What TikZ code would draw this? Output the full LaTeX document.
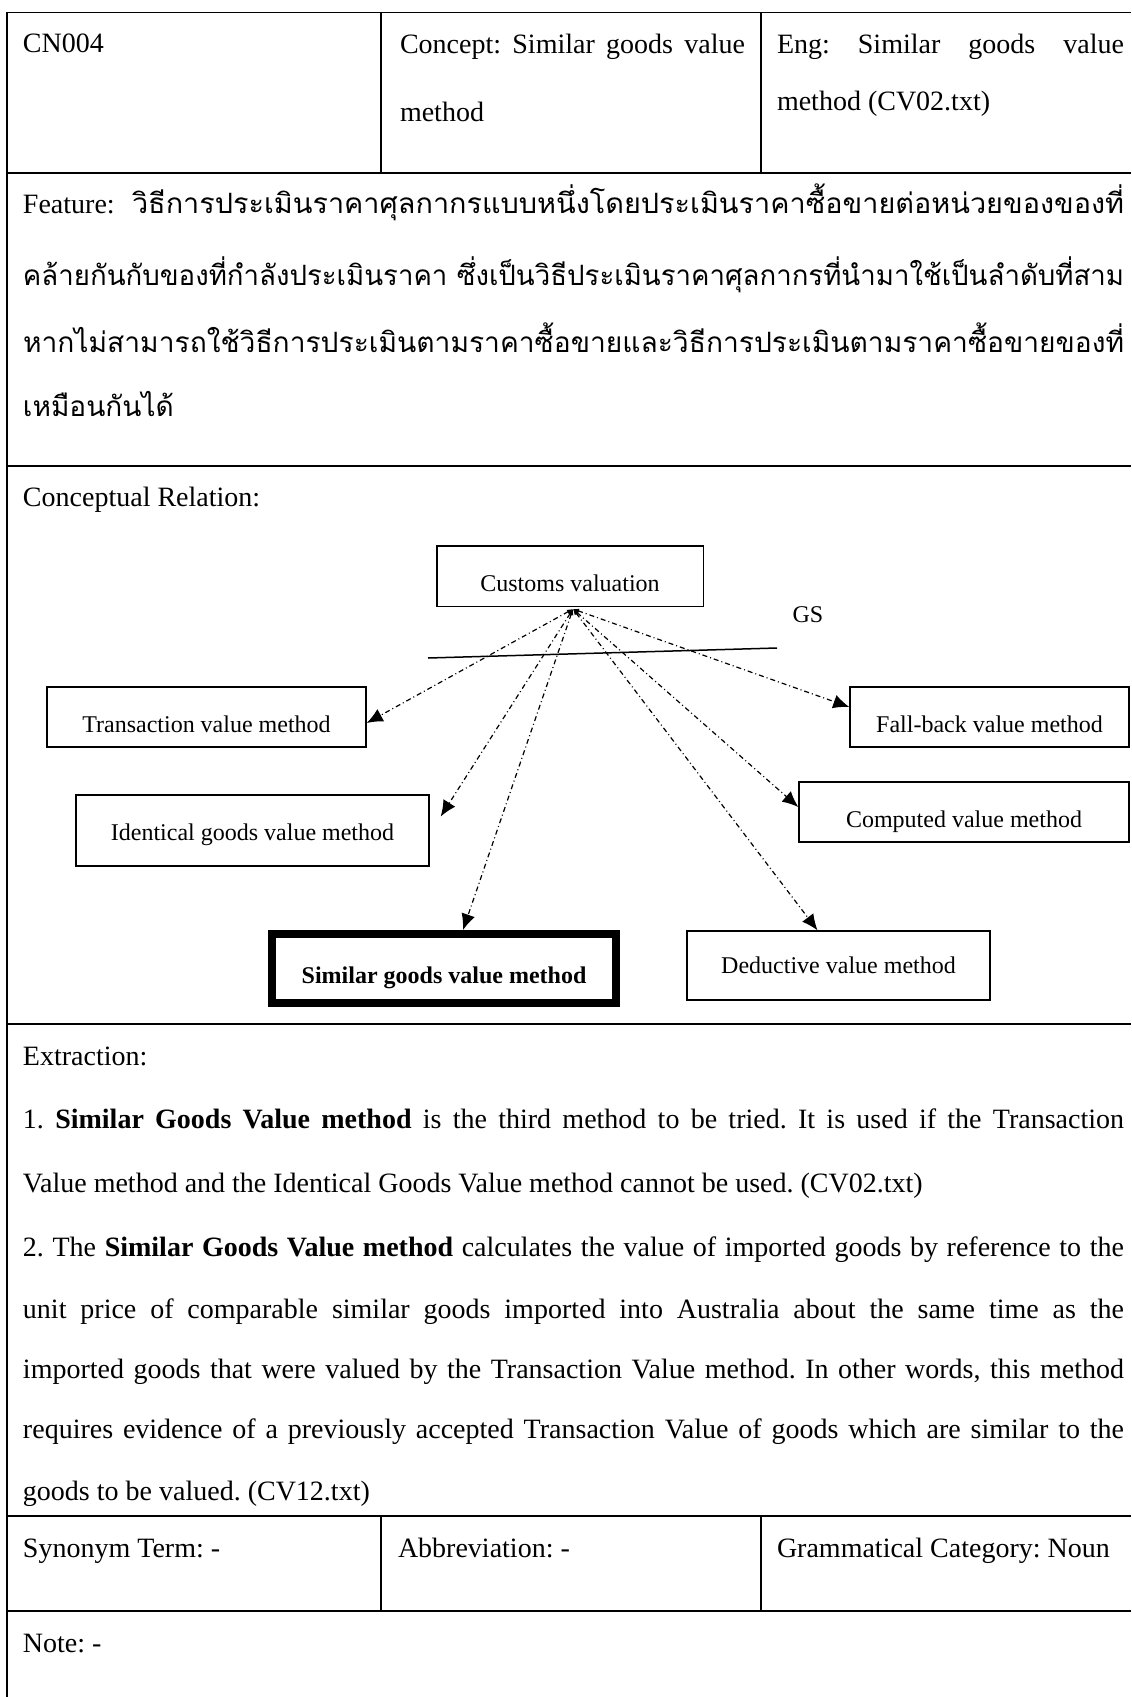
\documentclass[tikz,border=0pt]{standalone}
\usepackage{fontspec}
\setmainfont{Liberation Serif}
\newfontfamily\thaifont[Script=Thai]{Loma}
\usepackage{graphicx}
\usetikzlibrary{arrows.meta}
\frenchspacing

\begin{document}
\begin{tikzpicture}[x=0.5pt,y=-0.5pt,
  txt/.style={anchor=base west, inner sep=0pt, outer sep=0pt,
    font=\fontsize{14pt}{17pt}\selectfont},
  box/.style={draw, line width=0.7pt, inner sep=0pt, text depth=0pt,
    font=\fontsize{12pt}{14pt}\selectfont},
  tablerule/.style={line width=0.8pt},
  cellrule/.style={line width=0.6pt},
  rel/.style={line width=0.6pt,
    dash pattern=on 2.5pt off 1.5pt on 0.5pt off 1.5pt,
    {Latex[length=3pt,width=2.5pt]}-{Latex[length=8pt,width=7pt]}},
]
% page
\fill[white] (0,0) rectangle (1131,1697);
\useasboundingbox (0,0) rectangle (1131,1697);

% ---- table frame ----
\draw[tablerule] (7,1697) -- (7,12.5) -- (1131,12.5);
\foreach \yy in {173,466,1024,1516,1611}
  \draw[tablerule] (7,\yy) -- (1131,\yy);
\draw[cellrule] (381,12.5) -- (381,173);
\draw[cellrule] (761,12.5) -- (761,173);
\draw[cellrule] (381,1516) -- (381,1611);
\draw[cellrule] (761,1516) -- (761,1611);

% ---- header row ----
\node[txt] (id) at (23,52) {CN004};
\node[txt] (concept1) at (400,53) {\makebox[172.5pt][s]{Concept: Similar goods value}};
\node[txt] (concept2) at (400,121) {method};
\node[txt] (eng1) at (777,53) {\makebox[173.5pt][s]{Eng: Similar goods value}};
\node[txt] (eng2) at (777,110) {method (CV02.txt)};

% ---- feature row ----
\node[txt] (feat) at (23,213) {Feature:};
\node[txt] (th1) at (132,213) {\resizebox{496pt}{\height}{\thaifont วิธีการประเมินราคาศุลกากรแบบหนึ่งโดยประเมินราคาซื้อขายต่อหน่วยของของที่}};
\node[txt] (th2) at (23,285) {\resizebox{550.5pt}{\height}{\thaifont คล้ายกันกับของที่กำลังประเมินราคา ซึ่งเป็นวิธีประเมินราคาศุลกากรที่นำมาใช้เป็นลำดับที่สาม}};
\node[txt] (th3) at (23,352) {\resizebox{550.5pt}{\height}{\thaifont หากไม่สามารถใช้วิธีการประเมินตามราคาซื้อขายและวิธีการประเมินตามราคาซื้อขายของที่}};
\node[txt] (th4) at (23,416) {\thaifont เหมือนกันได้};

% ---- conceptual relation ----
\node[txt] (crel) at (23,506) {Conceptual Relation:};

\node[box, minimum width=133.2pt, minimum height=30.35pt, text height=15.5pt] (cv) at (570,576.4) {Customs valuation};
\node[box, minimum width=159.5pt, minimum height=30pt, text height=15pt] (tv) at (206.5,717) {Transaction value method};
\node[box, minimum width=139.5pt, minimum height=30pt, text height=15pt] (fb) at (989.5,717) {Fall-back value method};
\node[box, minimum width=176.5pt, minimum height=35.5pt, text height=9.5pt] (ig) at (252.5,830.5) {Identical goods value method};
\node[box, minimum width=165pt, minimum height=30pt, text height=15pt] (cm) at (964,812) {Computed value method};
\node[box, line width=4pt, minimum width=172pt, minimum height=34.5pt, text height=14.5pt,
  font=\fontsize{12pt}{14pt}\selectfont\bfseries] (sg) at (444,968.5) {Similar goods value method};
\node[box, minimum width=151.5pt, minimum height=34.5pt, text height=7.5pt] (dv) at (838.5,965.5) {Deductive value method};

\node[anchor=base, inner sep=0pt, font=\fontsize{12pt}{14pt}\selectfont] (gs) at (808,622) {GS};
\coordinate (gsl) at (428,658);
\coordinate (gsr) at (777,648);
\draw[line width=0.75pt] (gsl) -- (gsr);

\coordinate (hub) at (573,609);
\draw[rel] (hub) -- ([yshift=-3pt]tv.east);
\draw[rel] (hub) -- ([yshift=5pt]fb.west);
\draw[rel] (hub) -- ([xshift=5.5pt,yshift=7pt]ig.east);
\draw[rel] (hub) -- ([xshift=9.5pt]sg.north);
\draw[rel] (hub) -- ([yshift=2.5pt]cm.west);
\draw[rel] (hub) -- ([xshift=-10.5pt]dv.north);

% ---- extraction ----
\node[txt] (ex0) at (23,1065) {Extraction:};
\node[txt] (ex1) at (23,1128) {\makebox[550.5pt][s]{1. \textbf{Similar Goods Value method} is the third method to be tried. It is used if the Transaction}};
\node[txt] (ex2) at (23,1192) {Value method and the Identical Goods Value method cannot be used. (CV02.txt)};
\node[txt] (ex3) at (23,1256) {\makebox[550.5pt][s]{2. The \textbf{Similar Goods Value method} calculates the value of imported goods by reference to the}};
\node[txt] (ex4) at (23,1318) {\makebox[550.5pt][s]{unit price of comparable similar goods imported into Australia about the same time as the}};
\node[txt] (ex5) at (23,1378) {\makebox[550.5pt][s]{imported goods that were valued by the Transaction Value method. In other words, this method}};
\node[txt] (ex6) at (23,1438) {\makebox[550.5pt][s]{requires evidence of a previously accepted Transaction Value of goods which are similar to the}};
\node[txt] (ex7) at (23,1500) {goods to be valued. (CV12.txt)};

% ---- bottom rows ----
\node[txt] (syn) at (23,1557) {Synonym Term: -};
\node[txt] (abbr) at (398,1557) {Abbreviation: -};
\node[txt] (gram) at (777,1557) {Grammatical Category: Noun};
\node[txt] (note) at (23,1652) {Note: -};
\end{tikzpicture}
\end{document}
